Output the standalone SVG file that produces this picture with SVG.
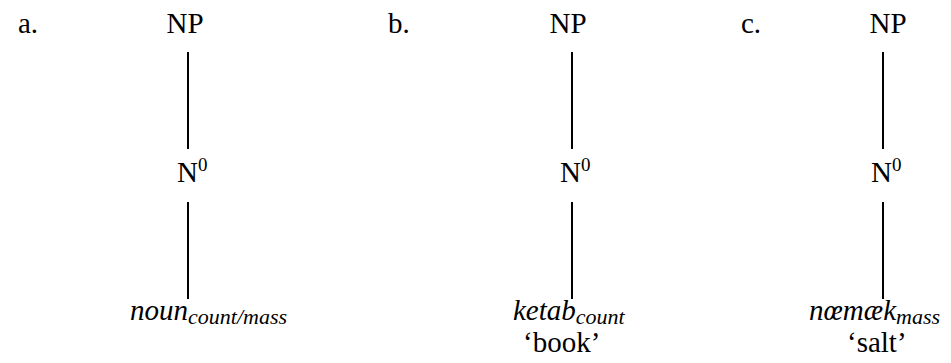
<svg xmlns="http://www.w3.org/2000/svg" width="951" height="363" viewBox="0 0 951 363">
<style>
text{font-family:"Liberation Serif","Times New Roman",serif;font-size:29px;fill:#000}
.it{font-style:italic}
.sub{font-size:22px}
.sup{font-size:19px}
line{stroke:#000;stroke-width:2}
</style>
<rect width="951" height="363" fill="#fff"/>
<g id="labels">
<text x="18" y="33">a.</text>
<text x="388" y="33">b.</text>
<text x="741" y="33">c.</text>
</g>
<g id="tree-a">
<g id="a-np"><text x="185" y="33" text-anchor="middle">NP</text></g>
<g id="a-n0"><text x="177" y="182">N<tspan class="sup" dy="-11">0</tspan></text></g>
<g id="a-leaf"><text x="130" y="320" class="it">noun<tspan class="sub" dy="4">count/mass</tspan></text></g>
</g>
<g id="tree-b">
<g id="b-np"><text x="568" y="33" text-anchor="middle">NP</text></g>
<g id="b-n0"><text x="560" y="182">N<tspan class="sup" dy="-11">0</tspan></text></g>
<g id="b-leaf"><text x="513" y="320" class="it">ketab<tspan class="sub" dy="4">count</tspan></text>
<text x="523" y="352">‘book’</text></g>
</g>
<g id="tree-c">
<g id="c-np"><text x="888" y="33" text-anchor="middle">NP</text></g>
<g id="c-n0"><text x="871" y="182">N<tspan class="sup" dy="-11">0</tspan></text></g>
<g id="c-leaf"><text x="809" y="320" class="it">nœmæk<tspan class="sub" dy="4">mass</tspan></text>
<text x="847" y="352">‘salt’</text></g>
</g>
<g id="connectors">
<line x1="188" y1="52" x2="188" y2="149"/>
<line x1="188" y1="202" x2="188" y2="299"/>
<line x1="572" y1="52" x2="572" y2="149"/>
<line x1="572" y1="202" x2="572" y2="299"/>
<line x1="883" y1="52" x2="883" y2="149"/>
<line x1="883" y1="202" x2="883" y2="299"/>
</g>
</svg>
